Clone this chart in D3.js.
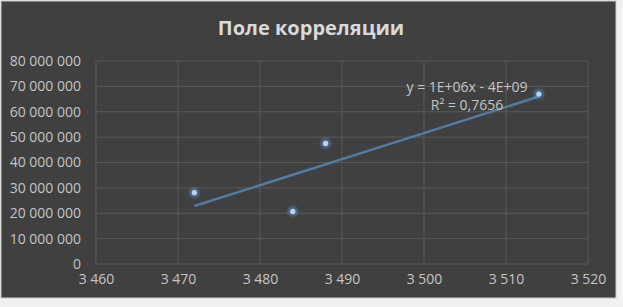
<!DOCTYPE html>
<html>
<head>
<meta charset="utf-8">
<script src="https://cdn.jsdelivr.net/npm/d3@7"></script>
<style>
  html, body { margin: 0; padding: 0; background: #f0f0f0; }
  svg { display: block; }
</style>
</head>
<body>
<svg id="chart" width="623" height="307"></svg>
<script>
// values
const xValues = [3472, 3484, 3488, 3514];
const yValues = [28100000, 20700000, 47500000, 67000000];
const xTicks = [3460, 3470, 3480, 3490, 3500, 3510, 3520];
const yTicks = [0, 10000000, 20000000, 30000000, 40000000, 50000000, 60000000, 70000000, 80000000];
const title = "Поле корреляции";
const equationLines = ["y = 1E+06x - 4E+09", "R² = 0,7656"];

const svg = d3.select("#chart");

svg.append("rect")
    .attr("x", 1).attr("y", 1)
    .attr("width", 615).attr("height", 297)
    .attr("fill", "#404040")
    .attr("stroke", "#c8c8c8")
    .attr("stroke-width", 1);

const xScale = d3.scaleLinear().domain([3460, 3520]).range([96, 588]);
const yScale = d3.scaleLinear().domain([0, 80000000]).range([264, 61]);

const fmt = v => d3.format(",")(v).replace(/,/g, " ");

// grid
svg.append("g")
    .selectAll("line")
    .data(yTicks)
    .join("line")
    .attr("x1", xScale.range()[0]).attr("x2", xScale.range()[1])
    .attr("y1", d => yScale(d)).attr("y2", d => yScale(d))
    .attr("stroke", "#595959").attr("stroke-width", 1);

svg.append("g")
    .selectAll("line")
    .data(xTicks)
    .join("line")
    .attr("x1", d => xScale(d)).attr("x2", d => xScale(d))
    .attr("y1", yScale.range()[0]).attr("y2", yScale.range()[1])
    .attr("stroke", "#595959").attr("stroke-width", 1);

// axes (labels only)
const xAxis = d3.axisBottom(xScale).tickValues(xTicks).tickSize(0).tickPadding(10).tickFormat(fmt);
const xAxisGroup = svg.append("g")
    .attr("transform", `translate(0, ${yScale(0)})`)
    .call(xAxis);
xAxisGroup.select(".domain").remove();
xAxisGroup.selectAll("text")
    .attr("fill", "#c4c4c4")
    .attr("font-family", "Open Sans, sans-serif")
    .attr("font-size", "14px");

const yAxis = d3.axisLeft(yScale).tickValues(yTicks).tickSize(0).tickPadding(15).tickFormat(fmt);
const yAxisGroup = svg.append("g")
    .attr("transform", `translate(${xScale.range()[0]}, 0)`)
    .call(yAxis);
yAxisGroup.select(".domain").remove();
yAxisGroup.selectAll("text")
    .attr("fill", "#c4c4c4")
    .attr("font-family", "Open Sans, sans-serif")
    .attr("font-size", "14px");

// linear trendline
const n = xValues.length;
const mx = d3.mean(xValues), my = d3.mean(yValues);
let sxy = 0, sxx = 0;
for (let i = 0; i < n; i++) {
    sxy += (xValues[i] - mx) * (yValues[i] - my);
    sxx += (xValues[i] - mx) ** 2;
}
const slope = sxy / sxx;
const intercept = my - slope * mx;
const xExt = d3.extent(xValues);

svg.append("line")
    .attr("x1", xScale(xExt[0])).attr("y1", yScale(slope * xExt[0] + intercept))
    .attr("x2", xScale(xExt[1])).attr("y2", yScale(slope * xExt[1] + intercept))
    .attr("stroke", "#4f7ca3")
    .attr("stroke-width", 2.5);

// points with glow
const defs = svg.append("defs");
const grad = defs.append("radialGradient").attr("id", "glow");
grad.append("stop").attr("offset", "0%").attr("stop-color", "#5b9bd5").attr("stop-opacity", 0.85);
grad.append("stop").attr("offset", "100%").attr("stop-color", "#5b9bd5").attr("stop-opacity", 0);

const pts = svg.append("g").selectAll("g")
    .data(xValues.map((x, i) => ({x, y: yValues[i]})))
    .join("g")
    .attr("transform", d => `translate(${xScale(d.x)},${yScale(d.y)})`);
pts.append("circle").attr("r", 7).attr("fill", "url(#glow)");
pts.append("circle").attr("r", 2.6).attr("fill", "#b3d3f2");

// title
svg.append("text")
    .attr("x", 311).attr("y", 35)
    .attr("text-anchor", "middle")
    .attr("fill", "#d9d9d9")
    .attr("font-family", "Open Sans, sans-serif")
    .attr("font-weight", "bold")
    .attr("font-size", "20px")
    .text(title);

// equation label
svg.append("g")
    .selectAll("text")
    .data(equationLines)
    .join("text")
    .attr("x", 467)
    .attr("y", (d, i) => 92 + i * 18)
    .attr("text-anchor", "middle")
    .attr("fill", "#c4c4c4")
    .attr("font-family", "Open Sans, sans-serif")
    .attr("font-size", "14px")
    .text(d => d);
</script>
</body>
</html>
